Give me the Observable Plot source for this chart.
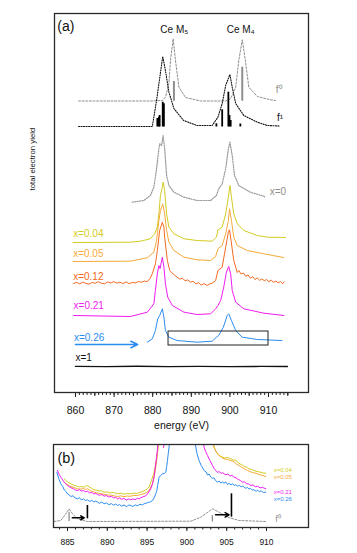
<!DOCTYPE html>
<html><head><meta charset="utf-8">
<script src="https://cdn.jsdelivr.net/npm/d3@7"></script>
<script src="https://cdn.jsdelivr.net/npm/@observablehq/plot@0.6"></script>
<style>
body{margin:0;background:#fff;font-family:"Liberation Sans",Arial,sans-serif}
#wrap{width:357px;height:553px;position:relative;overflow:hidden;background:#fff}
#wrap svg{display:block}
</style></head><body><div id="wrap"></div>
<script>
// ---------- tick labels ----------
const majorTicksA = [860, 870, 880, 890, 900, 910];
const midTicksA = [865, 875, 885, 895, 905, 915];
const minorTicksA = d3.range(860, 916, 1);
const majorTicksB = [885, 890, 895, 900, 905, 910];
const minorTicksB = d3.range(884, 911, 1);

// ---------- series names / colours ----------
const seriesNames = ["x=0.04", "x=0.05", "x=0.12", "x=0.21", "x=0.26"];
const seriesColors = ["#d3cc22", "#f7a938", "#f26a22", "#f01cf0", "#2b8cf0"];

// ---------- panel (a) : energy (eV), offset intensity ----------
const f0A = [[860.8,291.5],[879.4,291.5],[882.5,292],[883.3,295.3],[884.2,309],[884.6,332],[885.3,353.7],[885.9,332],[886.8,305.3],[888.5,295],[892.4,291.5],[898.9,291.5],[900.2,294],[901.5,305.3],[902.3,332],[903.2,352.7],[904.0,332],[904.9,305.3],[907.1,296],[910.5,292.7],[911.8,292]];
const f0SticksA = [[885.5,291.3,311],[903.2,291.3,325.3]];
const f1A = [[860.8,266],[879.9,266],[881.0,292],[881.6,308.7],[882.6,336],[883.3,322],[884.2,300.3],[885.5,284],[888.0,272],[891.5,267],[895.4,267],[896.9,275.3],[898.0,289],[898.9,307],[900.0,318],[900.6,305.3],[901.5,289],[903.6,277],[907.1,270.3],[909.7,267],[913.0,266.5]];
const f1SticksA = [[881.2,265.5,274],[881.6,265.5,275.3],[881.8,265.5,277],[882.6,265.5,290.3],[882.9,265.5,288.7],[896.5,265.5,268.7],[898.0,265.5,282.7],[899.6,265.5,300.3],[899.9,265.5,277],[900.2,265.5,272],[902.7,265.5,268.5]];
const x0A = [[874.7,190.3],[877.7,192],[879.4,197],[880.3,205.3],[881.0,223.7],[881.6,243.7],[881.8,248.7],[882.3,247],[882.7,257],[883.1,244],[883.6,217],[884.2,207],[885.5,200.3],[888.1,195.3],[891.5,192],[895.0,192],[896.5,197],[897.1,203.7],[898.0,208.7],[898.9,223.7],[899.6,243.7],[900.0,250.3],[900.6,237],[901.2,217],[902.3,207],[905.3,200.3],[908.8,196.3],[909.2,195]];
const x004A = [[859.4,150],[874.2,150.3],[876.8,151.3],[879.4,153.7],[880.5,158.7],[881.2,165.3],[881.6,178.7],[882.0,197],[882.5,205.3],[882.7,210.3],[883.1,202],[883.6,178.7],[884.2,165.3],[885.5,158.7],[888.1,153.7],[891.5,152],[895.4,151.3],[896.5,155.3],[896.9,162.7],[898.0,165.3],[898.9,178.7],[899.6,195.3],[900.0,207],[900.4,195.3],[901.0,178.7],[901.9,168.7],[903.6,162],[907.1,157],[909.7,155.3],[914.4,155]];
const x005A = [[859.4,131],[874.2,131.3],[878.6,134.7],[880.3,140.3],[881.0,152],[881.6,172],[882.0,182],[882.6,188.7],[883.1,178.7],[883.6,162],[884.2,150.3],[885.5,142],[888.1,135.3],[891.5,132.7],[895.0,132],[896.3,136],[896.9,143.7],[898.0,147],[898.9,158.7],[899.6,172],[899.9,183.7],[900.4,172],[901.0,155.3],[901.9,147],[904.5,142],[908.8,138.7],[913.9,135]];
const x012A = [[859.5,109],[860.3,110.2],[861.1,108.6],[861.9,110.4],[862.7,109.1],[863.5,108.3],[864.3,110],[865.1,109.2],[865.9,110.8],[866.7,109.3],[867.5,108.7],[868.3,110.5],[869.1,109.5],[869.9,110.9],[870.7,109.4],[871.5,110.2],[872.3,109],[873.1,110.6],[873.9,108.8],[874.7,110.1],[875.5,109.6],[876.3,111],[877.1,110.3],[877.9,111.5],[878.6,110.8],[879.3,114],[879.9,118.7],[880.7,128.7],[881.2,142],[881.8,162],[882.5,170.3],[882.9,165.3],[883.1,155.3],[883.8,132],[884.4,122],[885.3,118.5],[886.3,115.3],[887.0,113.5],[887.7,114.2],[888.4,111.8],[889.1,112.6],[889.8,110.3],[890.5,111.2],[891.2,108.6],[891.9,109.8],[892.6,107.5],[893.3,108.9],[894.1,107],[894.8,108.6],[895.5,109.5],[896.3,112],[896.9,122],[898.0,125.3],[898.9,145.3],[899.6,160.3],[899.9,162.7],[900.3,152],[901.0,132],[901.9,120],[902.3,122],[902.9,118.5],[903.5,119.5],[904.1,116.2],[904.7,117.5],[905.3,114.3],[905.9,115.8],[906.5,113],[907.1,114.5],[907.7,112.2],[908.3,113.6],[908.9,111.8],[909.5,113],[910.1,110.8],[910.7,112.3],[911.3,110.2],[911.9,111.5],[912.5,109.6],[913.1,111],[913.7,108.8],[914.0,110.5]];
const x021A = [[859.5,77],[874.2,76],[878.6,80.3],[880.3,88.7],[880.7,102],[881.2,118.7],[881.6,127],[881.9,124],[882.5,135.3],[882.9,125.3],[883.3,108.7],[883.9,95.3],[885.1,87],[888.1,80.3],[891.5,78],[895.0,78.7],[896.3,83.7],[896.9,87],[897.6,92],[898.4,105.3],[899.1,120.3],[899.7,126],[900.2,118.7],[900.6,102],[901.5,90.3],[903.6,83.7],[908.8,79.3],[914.0,77]];
const x026A = [[878.6,50.3],[879.9,53.7],[880.7,62],[881.3,73.7],[881.8,77],[882.5,83.7],[882.9,75.3],[883.3,62],[884.2,55.3],[886.3,52],[891.5,50.3],[895.4,51.3],[896.5,55.3],[897.1,57],[898.3,65.3],[899.3,77],[899.7,78.7],[900.4,72],[901.5,62],[903.2,55.3],[907.1,53],[913.5,52]];
const x1A = [[860,26.1],[868,25.9],[876,26.2],[884,25.9],[892,26.1],[900,25.9],[908,26.1],[914.9,26]];
const boxA = [{x1: 884.1, x2: 910.0, y1: 47, y2: 61}];
const arrowA = [{x1: 860.0, x2: 876.1, y: 48}];
const labelsA = [
  {x: 859.4, y: 159, text: "x=0.04", s: 0},
  {x: 859.4, y: 138.3, text: "x=0.05", s: 1},
  {x: 859.4, y: 115.8, text: "x=0.12", s: 2},
  {x: 859.5, y: 86.5, text: "x=0.21", s: 3},
  {x: 859.6, y: 55, text: "x=0.26", s: 4}
];
const blackLabelsA = [{x: 860, y: 34.5, text: "x=1"}];
const grayLabelsA = [{x: 910.3, y: 200.3, text: "x=0"}, {x: 911.9, y: 303, text: "f\u2070"}];
const f1LabelA = [{x: 912.2, y: 274.5, text: "f\u00b9"}];
const edgeLabelsA = [{x: 885.6, y: 363, text: "Ce M\u2085"}, {x: 902.8, y: 363, text: "Ce M\u2084"}];
const panelLabelA = [{x: 855.3, y: 366, text: "(a)"}];

// ---------- panel (b) ----------
const f0B = [[883.32,6],[884.16,7],[884.79,13.7],[885.2,18.7],[885.63,13.7],[886.26,8.7],[887.51,6],[900.49,6.3],[901.75,10.3],[903.22,18.7],[904.05,15.3],[905.1,10.3],[906.56,7],[909.9,6]];
const f0SticksB = [[885.2,6,15.3],[903.2,5.5,12]];
const f1SticksB = [[887.5,8.7,22],[905.6,10.3,33.7]];
const arrowsB = [{x1: 885.6, x2: 887.1, y: 9.7}, {x1: 903.6, x2: 905.3, y: 12.7}];
const x004B = [
  [[884.57,48.7],[884.8,47],[885.0,45.6],[885.2,44.8],[885.41,43.7],[885.7,42.6],[886.0,41.8],[886.26,41],[886.5,40.6],[886.8,40.9],[887.09,40.3],[887.3,41.2],[887.51,42],[887.75,40.5],[888.0,39.4],[888.34,37.7],[888.7,37.2],[889.0,36.5],[889.3,36.8],[889.6,35.3],[890.0,35.6],[890.4,34.6],[890.8,35],[891.28,33.7],[891.7,34.3],[892.1,33.4],[892.5,34],[892.95,33.7],[893.3,34.4],[893.7,34],[894.0,35],[894.21,35.3],[894.6,36.6],[895.05,38.7],[895.3,41.5],[895.46,45.3],[895.7,50.5],[895.88,55.3],[896.05,62.5],[896.22,70.3],[896.38,80.3],[896.42,83]],
  [[903.35,83],[903.42,80.3],[903.6,77],[903.84,73.7],[904.1,72],[904.47,70.3],[904.8,69.5],[905.1,70.1],[905.52,68.7],[905.9,67.3],[906.1,67.6],[906.36,65.3],[906.7,63.5],[907.0,62.3],[907.19,61],[907.5,60.4],[907.8,58.6],[908.1,58.2],[908.44,57],[908.8,56],[909.1,55.6],[909.5,54.7],[909.91,54.3]]
];
const x005B = [
  [[884.57,45.3],[884.9,43.2],[885.3,41.5],[885.7,40.2],[886.0,39.4],[886.26,38.7],[886.6,38.4],[887.0,38.9],[887.25,38.1],[887.51,38.7],[887.9,36.8],[888.3,35.6],[888.77,34.3],[889.2,33.8],[889.6,33.2],[890.0,32.6],[890.5,32.3],[890.9,31.6],[891.28,31],[891.7,31.6],[892.1,30.8],[892.5,31.5],[892.9,31.2],[893.3,32.1],[893.79,32],[894.2,33],[894.6,33.8],[895.05,35.3],[895.35,38.5],[895.68,43.7],[895.9,51],[896.09,60.3],[896.25,70],[896.38,80.3],[896.42,83]],
  [[903.3,83],[903.42,79.7],[903.7,75.5],[904.05,72],[904.35,70.2],[904.67,68.7],[905.1,68],[905.52,67],[905.9,65.8],[906.2,63.5],[906.56,62],[906.9,60.2],[907.2,58.8],[907.61,57],[908.0,55.6],[908.4,54.8],[908.87,53.7],[909.3,52.5],[909.91,51]]
];
const x021B = [
  [[883.74,57],[883.95,53],[884.16,50.3],[884.4,47.5],[884.6,45.2],[884.8,43.5],[885.0,42],[885.25,40.6],[885.5,39.5],[885.75,38.8],[886.0,37.4],[886.26,37],[886.5,37.8],[886.75,36.5],[887.0,36.9],[887.25,35.8],[887.51,36.3],[887.8,34.6],[888.05,35.2],[888.3,33.5],[888.55,34.2],[888.77,33],[889.0,32.2],[889.3,33],[889.6,31.4],[889.9,31.9],[890.2,30.5],[890.5,31.2],[890.8,29.6],[891.05,30.2],[891.28,28.7],[891.55,29.5],[891.8,28.2],[892.1,29],[892.4,27.5],[892.7,28.5],[892.95,27.7],[893.2,28.6],[893.5,27.8],[893.8,29.2],[894.0,28.6],[894.21,29.7],[894.5,30.8],[894.8,31.5],[895.05,33.7],[895.3,36.5],[895.5,39.5],[895.68,43.7],[895.9,52],[896.09,63.7],[896.2,71],[896.31,78.7],[896.36,83]],
  [[897.05,80],[897.15,83]],
  [[902.1,83],[902.16,80.3],[902.35,76],[902.59,72],[902.9,67],[903.22,62],[903.5,58],[903.84,55.3],[904.05,55.8],[904.3,54.2],[904.5,54.8],[904.67,53.7],[904.9,52.8],[905.15,53.4],[905.4,51.5],[905.65,52.1],[905.93,50.3],[906.2,49.5],[906.45,48],[906.7,47.2],[906.98,45.3],[907.2,45.8],[907.45,44.1],[907.75,43.5],[908.03,42],[908.3,42.6],[908.6,40.8],[908.9,41.2],[909.2,39.6],[909.5,40.1],[909.91,38.7]]
];
const x026B = [
  [[883.66,55.3],[883.9,49],[884.16,43.7],[884.4,41],[884.6,37.5],[884.8,36],[885.0,33.7],[885.2,32.5],[885.45,31],[885.7,31.8],[885.95,29.5],[886.26,28.7],[886.5,29.8],[886.75,27.6],[887.0,28.5],[887.25,27],[887.51,27.7],[887.8,26],[888.05,27.2],[888.3,25.5],[888.55,26.4],[888.77,25.3],[889.0,24.2],[889.3,25.4],[889.6,23.8],[889.9,24.6],[890.2,22.8],[890.5,23.9],[890.8,22.3],[891.05,23.4],[891.28,22],[891.55,22.9],[891.8,21.4],[892.1,22.6],[892.4,20.8],[892.7,22.4],[892.95,22],[893.2,21],[893.5,22.6],[893.8,21.8],[894.1,23.2],[894.4,22.5],[894.62,23.7],[894.9,24.4],[895.2,25.2],[895.45,25.8],[895.68,27],[895.9,30],[896.1,34],[896.22,37],[896.35,43],[896.51,50.3],[896.7,52],[896.93,53.7],[897.15,54],[897.35,55.3],[897.46,61],[897.56,67],[897.66,74],[897.76,80.3],[897.8,83]],
  [[901.05,83],[901.12,80.3],[901.3,73],[901.53,67],[901.8,62],[902.0,59.5],[902.16,57],[902.4,55.6],[902.6,52.5],[902.8,53.4],[903.0,50.3],[903.2,49],[903.4,49.8],[903.6,47],[903.84,45.3],[904.05,46.4],[904.25,44.5],[904.45,45.6],[904.67,44.3],[904.9,45.5],[905.1,43],[905.3,44.2],[905.55,42.6],[905.75,43.8],[905.93,42],[906.15,42.8],[906.4,41.2],[906.6,42.3],[906.8,40.6],[907.0,41.5],[907.19,40.3],[907.4,39.2],[907.6,40],[907.8,38.5],[908.0,39.1],[908.2,37.5],[908.44,37.7],[908.7,36.2],[908.9,37.3],[909.1,35.8],[909.35,36.6],[909.6,35],[909.91,35.3]]
];
const labelsB = [
  {x: 910.9, y: 57, text: "x=0.04", s: 0},
  {x: 910.9, y: 50.3, text: "x=0.05", s: 1},
  {x: 910.9, y: 35.8, text: "x=0.21", s: 3},
  {x: 910.9, y: 28, text: "x=0.26", s: 4}
];
const grayLabelsB = [{x: 911.1, y: 8.5, text: "f\u2070"}];
const panelLabelB = [{x: 883.74, y: 69.5, text: "(b)"}];

const FONT = "'Liberation Sans', Arial, Helvetica, sans-serif";
const GRAY = "#8f8f8f";

// ---------- build panel (a) ----------
const seriesA = [x004A, x005A, x012A, x021A, x026A];
const plotA = Plot.plot({
  width: 357, height: 430,
  marginLeft: 54, marginRight: 49, marginTop: 13, marginBottom: 38,
  x: {domain: [854.56, 920.36]},
  y: {domain: [0, 379], axis: null},
  style: {fontFamily: FONT, background: "transparent", color: "#111", overflow: "visible"},
  marks: [
    Plot.axisX(minorTicksA, {tickSize: 3, tickFormat: () => "", label: null, stroke: "#222"}),
    Plot.axisX(midTicksA, {tickSize: 4, tickFormat: () => "", label: null, stroke: "#222"}),
    Plot.axisX(majorTicksA, {tickSize: 5, tickPadding: 9.5, fontSize: 10.5, label: null, stroke: "#222", tickFormat: d => String(d)}),
    Plot.text(["energy (eV)"], {frameAnchor: "bottom", dy: 33, fontSize: 10.5, lineAnchor: "middle", fill: "#111"}),
    Plot.text(["total electron yield"], {frameAnchor: "left", dx: -22, dy: -12.5, rotate: -90, fontSize: 7.8, fill: "#111"}),
    Plot.line(f0A, {stroke: GRAY, strokeDasharray: "2,1.6", strokeWidth: 1}),
    Plot.ruleX(f0SticksA, {x: d => d[0], y1: d => d[1], y2: d => d[2], stroke: GRAY, strokeWidth: 2}),
    Plot.line(f1A, {stroke: "#111", strokeDasharray: "1.1,1.4", strokeWidth: 1.1}),
    Plot.ruleX(f1SticksA, {x: d => d[0], y1: d => d[1], y2: d => d[2], stroke: "#000", strokeWidth: 1.8}),
    Plot.line(x0A, {stroke: "#9a9a9a", strokeDasharray: "1.2,1.3", strokeWidth: 1.2}),
    ...seriesA.map((s, i) => Plot.line(s, {stroke: seriesColors[i], strokeWidth: 1})),
    Plot.line(x1A, {stroke: "#111", strokeWidth: 1.4}),
    Plot.rect(boxA, {x1: "x1", x2: "x2", y1: "y1", y2: "y2", fill: "none", stroke: "#222", strokeWidth: 1}),
    Plot.arrow(arrowA, {x1: "x1", x2: "x2", y1: "y", y2: "y", stroke: seriesColors[4], strokeWidth: 1.6, headLength: 7, headAngle: 50}),
    Plot.text(labelsA, {x: "x", y: "y", text: "text", fill: d => seriesColors[d.s], textAnchor: "start", fontSize: 10}),
    Plot.text(blackLabelsA, {x: "x", y: "y", text: "text", fill: "#111", textAnchor: "start", fontSize: 10}),
    Plot.text(grayLabelsA, {x: "x", y: "y", text: "text", fill: GRAY, textAnchor: "start", fontSize: 10}),
    Plot.text(f1LabelA, {x: "x", y: "y", text: "text", fill: "#111", textAnchor: "start", fontSize: 10}),
    Plot.text(edgeLabelsA, {x: "x", y: "y", text: "text", fill: "#111", fontSize: 10}),
    Plot.text(panelLabelA, {x: "x", y: "y", text: "text", fill: "#111", textAnchor: "start", fontSize: 14}),
    Plot.frame({stroke: "#2a2a2a", strokeWidth: 1.3})
  ]
});

// ---------- build panel (b) ----------
const seriesB = [x004B, x005B, x021B, x026B];
const colorIdxB = [0, 1, 3, 4];
const plotB = Plot.plot({
  width: 357, height: 123,
  marginLeft: 53, marginRight: 49, marginTop: 14, marginBottom: 26,
  x: {domain: [883.24, 915.28]},
  y: {domain: [0, 83], axis: null},
  style: {fontFamily: FONT, background: "transparent", color: "#111", overflow: "visible"},
  marks: [
    Plot.axisX(minorTicksB, {tickSize: 2.5, tickFormat: () => "", label: null, stroke: "#222"}),
    Plot.axisX(majorTicksB, {tickSize: 4, tickPadding: 7, fontSize: 8.5, label: null, stroke: "#222", tickFormat: d => String(d)}),
    Plot.line(f0B, {stroke: GRAY, strokeDasharray: "2,1.6", strokeWidth: 1}),
    Plot.ruleX(f0SticksB, {x: d => d[0], y1: d => d[1], y2: d => d[2], stroke: GRAY, strokeWidth: 1.3}),
    Plot.ruleX(f1SticksB, {x: d => d[0], y1: d => d[1], y2: d => d[2], stroke: "#000", strokeWidth: 1.6}),
    Plot.arrow(arrowsB, {x1: "x1", x2: "x2", y1: "y", y2: "y", stroke: "#000", strokeWidth: 1.5, headLength: 5, headAngle: 60}),
    ...seriesB.flatMap((segs, i) => segs.map(seg => Plot.line(seg, {stroke: seriesColors[colorIdxB[i]], strokeWidth: 1, clip: true}))),
    Plot.text(labelsB, {x: "x", y: "y", text: "text", fill: d => seriesColors[d.s], textAnchor: "start", fontSize: 6}),
    Plot.text(grayLabelsB, {x: "x", y: "y", text: "text", fill: GRAY, textAnchor: "start", fontSize: 9}),
    Plot.text(panelLabelB, {x: "x", y: "y", text: "text", fill: "#111", textAnchor: "start", fontSize: 14.5}),
    Plot.frame({stroke: "#2a2a2a", strokeWidth: 1.3})
  ]
});

const wrap = document.getElementById("wrap");
wrap.appendChild(plotA);
wrap.appendChild(plotB);
</script></body></html>
